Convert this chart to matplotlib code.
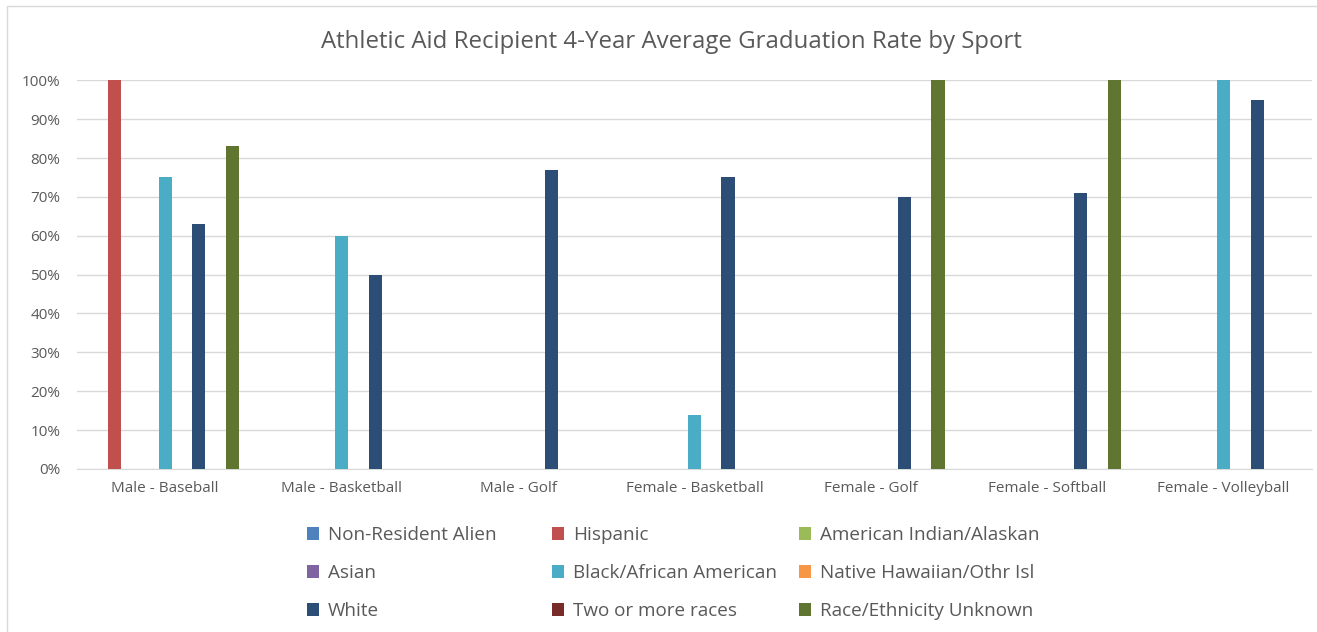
import matplotlib.pyplot as plt
import matplotlib.patches as mpatches
from matplotlib.ticker import PercentFormatter
import numpy as np

plt.rcParams['font.family'] = ['Open Sans', 'DejaVu Sans']

sports = ['Male - Baseball', 'Male - Basketball', 'Male - Golf', 'Female - Basketball',
          'Female - Golf', 'Female - Softball', 'Female - Volleyball']

groups = ['Non-Resident Alien', 'Hispanic', 'American Indian/Alaskan',
          'Asian', 'Black/African American', 'Native Hawaiian/Othr Isl',
          'White', 'Two or more races', 'Race/Ethnicity Unknown']

colors = ['#4F81BD', '#C0504D', '#9BBB59', '#8064A2', '#4BACC6', '#F79646',
          '#2C4D75', '#772C2A', '#5F7530']

# graduation rates (%) per group, one value per sport; 0 = no bar
non_resident = [0, 0, 0, 0, 0, 0, 0]
hispanic = [100, 0, 0, 0, 0, 0, 0]
american_indian = [0, 0, 0, 0, 0, 0, 0]
asian = [0, 0, 0, 0, 0, 0, 0]
black = [75, 60, 0, 14, 0, 0, 100]
native_hawaiian = [0, 0, 0, 0, 0, 0, 0]
white = [63, 50, 77, 75, 70, 71, 95]
two_or_more = [0, 0, 0, 0, 0, 0, 0]
unknown = [83, 0, 0, 0, 100, 100, 0]

series = [non_resident, hispanic, american_indian, asian, black,
          native_hawaiian, white, two_or_more, unknown]

fig = plt.figure(figsize=(13.17, 6.32), dpi=100)
ax = fig.add_axes([0.0585, 0.258, 0.9375, 0.615])

x = np.arange(len(sports))
slot = 0.0953
width = 0.074
handles = []
for i, vals in enumerate(series):
    h = ax.bar(x + (i - 4) * slot, vals, width, color=colors[i], label=groups[i], zorder=3)
    handles.append(h)

ax.set_xlim(-0.5, len(sports) - 0.5)
ax.set_ylim(0, 100)
ax.set_yticks(np.arange(0, 101, 10))
ax.yaxis.set_major_formatter(PercentFormatter(decimals=0))
ax.set_xticks(x)
ax.set_xticklabels(sports)
ax.tick_params(axis='both', length=0, labelsize=11, labelcolor='#595959')
ax.tick_params(axis='y', pad=12)
ax.tick_params(axis='x', pad=9)
ax.grid(axis='y', color='#d9d9d9', linewidth=1, zorder=0)
for s in ['top', 'right', 'left']:
    ax.spines[s].set_visible(False)
ax.spines['bottom'].set_color('#d9d9d9')

fig.suptitle('Athletic Aid Recipient 4-Year Average Graduation Rate by Sport',
             fontsize=17.3, color='#595959', x=0.51, y=0.953)

# legend laid out row-wise in three fixed columns
col_x = [307, 552, 799]
for c in range(3):
    idx = [c, c + 3, c + 6]
    leg = fig.legend([handles[k] for k in idx], [groups[k] for k in idx],
                     loc='center left', bbox_to_anchor=(col_x[c] / 1317, 1 - 573 / 632),
                     frameon=False, fontsize=13.6, handlelength=0.65, handleheight=0.65,
                     handletextpad=0.45, labelspacing=1.05, borderpad=0, borderaxespad=0)
    for t in leg.get_texts():
        t.set_color('#595959')

# chart border
fig.patches.append(mpatches.Rectangle((7 / 1317, -0.01), 1.05, 1 - 6 / 632 + 0.01,
                                      transform=fig.transFigure, fill=False,
                                      edgecolor='#d9d9d9', linewidth=1))

fig.savefig('out.png', dpi=100)
